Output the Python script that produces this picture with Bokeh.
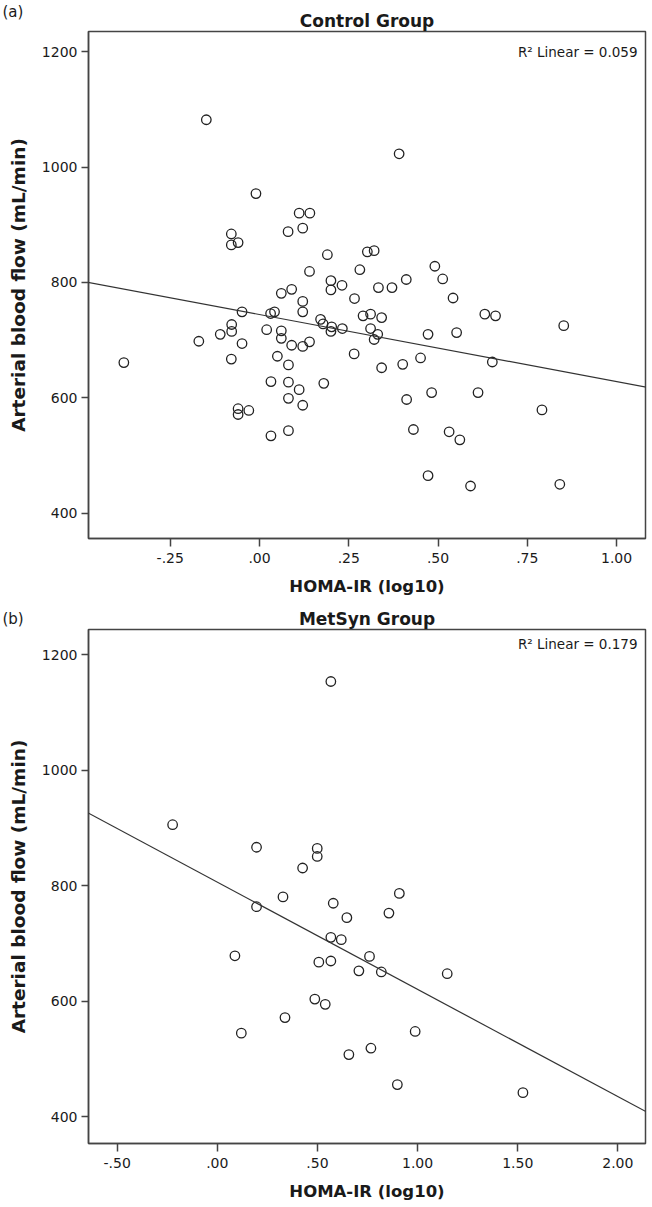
from bokeh.plotting import figure
from bokeh.models import Range1d, FixedTicker, Label, Slope, Title
from bokeh.layouts import column
from bokeh.embed import file_html
from bokeh.resources import INLINE

FONT = "DejaVu Sans"

# ---- data ----
ctrl_homa = [-0.149, -0.010, -0.079, -0.079, -0.060, 0.111, 0.141, 0.121, 0.080, 0.190,
             0.140, 0.200, 0.200, 0.231, 0.090, 0.061, 0.121, 0.266, 0.281, 0.391,
             0.302, 0.321, 0.491, 0.513, 0.333, 0.371, 0.411, 0.542, -0.049, 0.031,
             0.042, 0.121, 0.171, 0.178, 0.202, 0.200, 0.232, 0.265, -0.078, -0.078,
             -0.110, -0.170, -0.049, -0.079, -0.380, 0.020, 0.061, 0.061, 0.090, 0.121,
             0.140, 0.050, 0.081, 0.032, 0.081, 0.111, 0.180, 0.081, 0.121, -0.060,
             -0.060, -0.030, 0.032, 0.081, 0.290, 0.311, 0.342, 0.311, 0.331, 0.321,
             0.342, 0.401, 0.451, 0.472, 0.552, 0.631, 0.661, 0.852, 0.652, 0.412,
             0.482, 0.612, 0.791, 0.431, 0.531, 0.561, 0.472, 0.591, 0.841]
ctrl_flow = [1082, 954, 884, 865, 869, 920, 920, 894, 888, 848,
             819, 803, 787, 795, 788, 781, 767, 772, 822, 1023,
             853, 855, 828, 806, 791, 791, 805, 773, 749, 746,
             749, 749, 736, 728, 723, 715, 720, 676, 727, 715,
             710, 698, 694, 667, 661, 718, 716, 703, 691, 689,
             697, 672, 657, 628, 627, 614, 625, 599, 587, 581,
             571, 578, 534, 543, 742, 745, 739, 720, 710, 701,
             652, 658, 669, 710, 713, 745, 742, 725, 662, 597,
             609, 609, 579, 545, 541, 527, 465, 447, 450]

met_homa = [0.567, -0.223, 0.196, 0.499, 0.499, 0.426, 0.328, 0.196, 0.579, 0.647,
            0.567, 0.619, 0.088, 0.507, 0.567, 0.707, 0.487, 0.539, 0.338, 0.120,
            0.657, 0.909, 0.857, 0.760, 0.819, 1.148, 0.988, 0.767, 0.899, 1.526]
met_flow = [1154, 906, 867, 865, 851, 831, 781, 764, 770, 745,
            711, 707, 679, 668, 670, 653, 604, 595, 572, 545,
            508, 787, 753, 678, 651, 648, 548, 519, 456, 442]

ctrl_xticks = [-0.25, 0.0, 0.25, 0.5, 0.75, 1.0]
ctrl_xlabels = ["-.25", ".00", ".25", ".50", ".75", "1.00"]
met_xticks = [-0.5, 0.0, 0.5, 1.0, 1.5, 2.0]
met_xlabels = ["-.50", ".00", ".50", "1.00", "1.50", "2.00"]
y_ticks = [400, 600, 800, 1000, 1200]

ctrl_fit = (744.3, -116.3)   # intercept, slope of the linear fit line
met_fit = (806.6, -185.7)
ctrl_r2 = "0.059"
met_r2 = "0.179"

ctrl_xrange = (-0.479, 1.081)
ctrl_yrange = (356, 1235)
met_xrange = (-0.643, 2.138)
met_yrange = (354, 1244)

X_TITLE = "HOMA-IR (log10)"
Y_TITLE = "Arterial blood flow (mL/min)"

WIDTH = 650
LEFT = 88
RIGHT = 5
AXC = "#444444"
TXT = "#1a1a1a"


def make(tag, title, xs, ys, xr, yr, xticks, xlabels, fit, r2, height, btop, bbot,
         r2_y, title_standoff, tag_standoff):
    p = figure(width=WIDTH, height=height, x_range=Range1d(*xr), y_range=Range1d(*yr),
               output_backend="svg", toolbar_location=None, title=None,
               min_border_left=LEFT, min_border_right=RIGHT,
               min_border_top=btop, min_border_bottom=bbot)
    p.background_fill_color = "white"
    p.border_fill_color = "white"
    p.grid.visible = False
    p.outline_line_color = AXC
    p.outline_line_width = 1.5

    for ax in (p.xaxis[0], p.yaxis[0]):
        ax.axis_line_color = AXC
        ax.axis_line_width = 1.5
        ax.major_tick_line_color = AXC
        ax.major_tick_line_width = 1.5
        ax.major_tick_in = 0
        ax.minor_tick_line_color = None
        ax.major_label_text_font = FONT
        ax.major_label_text_font_size = "14px"
        ax.major_label_text_color = TXT
        ax.axis_label_text_font = FONT
        ax.axis_label_text_font_style = "bold"
        ax.axis_label_text_color = TXT

    p.xaxis.ticker = FixedTicker(ticks=xticks)
    p.xaxis.major_label_overrides = {t: l for t, l in zip(xticks, xlabels)}
    p.xaxis.major_tick_out = 8
    p.xaxis.major_label_standoff = 6
    p.xaxis.axis_label = X_TITLE
    p.xaxis.axis_label_text_font_size = "16.5px"
    p.xaxis.axis_label_standoff = 11

    p.yaxis.ticker = FixedTicker(ticks=y_ticks)
    p.yaxis.major_tick_out = 7
    p.yaxis.major_label_standoff = 4
    p.yaxis.axis_label = Y_TITLE
    p.yaxis.axis_label_text_font_size = "18.5px"
    p.yaxis.axis_label_standoff = 10

    p.scatter(xs, ys, marker="circle", size=9.5, fill_color=None,
              line_color="#222222", line_width=1.3)

    p.add_layout(Slope(gradient=fit[1], y_intercept=fit[0],
                       line_color="#333333", line_width=1.2))

    p.add_layout(Title(text=title, align="center", standoff=title_standoff,
                       text_font=FONT, text_font_size="17px", text_font_style="bold",
                       text_color=TXT), "above")
    p.add_layout(Title(text=tag, align="left", offset=-86, standoff=tag_standoff,
                       vertical_align="bottom",
                       text_font=FONT, text_font_size="15px", text_font_style="normal",
                       text_color=TXT), "above")

    fw = WIDTH - LEFT - RIGHT
    fh = height - btop - bbot

    def dx(sx):
        return xr[0] + (sx - LEFT) / fw * (xr[1] - xr[0])

    def dy(sy):
        return yr[1] - (sy - btop) / fh * (yr[1] - yr[0])

    p.add_layout(Label(x=dx(LEFT + fw - 8), y=dy(r2_y), text="R\u00b2 Linear = " + r2,
                       text_font=FONT, text_font_size="13.5px",
                       text_color=TXT, text_align="right", text_baseline="middle"))
    return p


p1 = make("(a)", "Control Group", ctrl_homa, ctrl_flow, ctrl_xrange, ctrl_yrange,
          ctrl_xticks, ctrl_xlabels, ctrl_fit, ctrl_r2,
          height=598, btop=31, bbot=60, r2_y=51, title_standoff=2, tag_standoff=-26)
p2 = make("(b)", "MetSyn Group", met_homa, met_flow, met_xrange, met_yrange,
          met_xticks, met_xlabels, met_fit, met_r2,
          height=609, btop=31, bbot=64, r2_y=45, title_standoff=2, tag_standoff=-44)

layout = column(p1, p2, spacing=0)
open("out.html", "w").write(file_html(layout, INLINE))
